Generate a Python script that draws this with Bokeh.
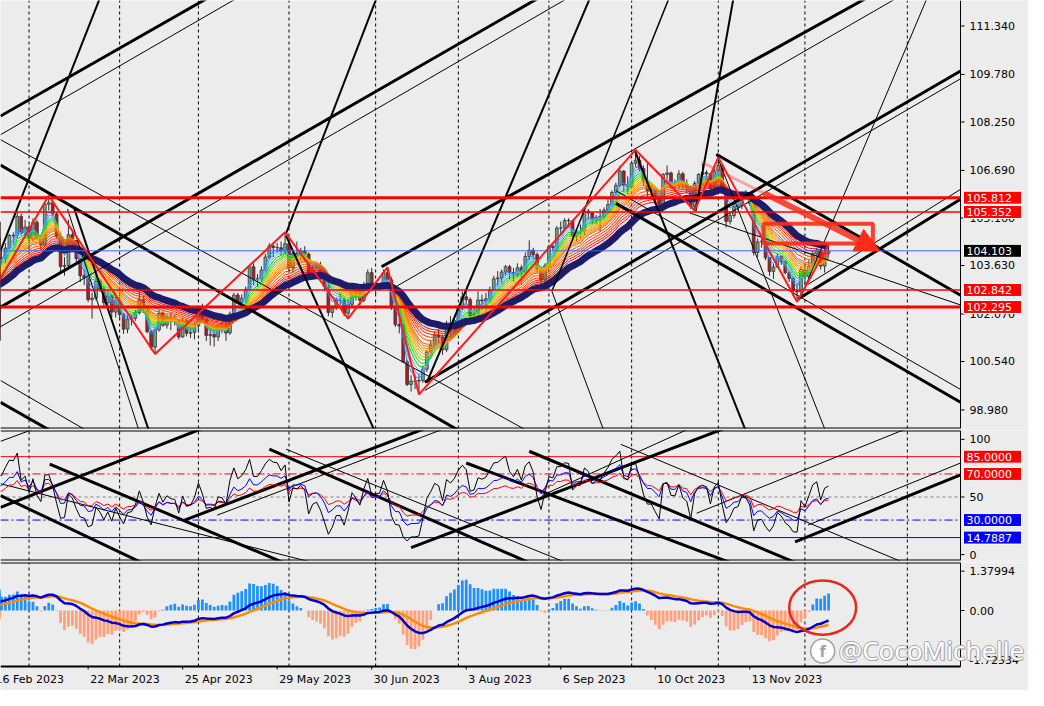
import numpy as np
import pandas as pd
from bokeh.plotting import figure
from bokeh.layouts import column
from bokeh.models import Range1d, Label, Arrow, NormalHead
from bokeh.core.properties import value
from bokeh.embed import file_html
from bokeh.resources import INLINE

# ---------------- data (daily candles, first bar = 3 Jan 2023) ----------------
first_date = "2023-01-03"

opens = [
    103.52, 104.52, 104.25, 105.03, 103.88, 103.01, 103.23, 103.20, 102.19, 102.20, 102.19, 102.38, 102.36, 102.06, 101.97, 102.13, 101.93, 101.63, 101.84, 101.92, 102.26,
    102.10, 101.22, 101.75, 102.92, 103.62, 103.41, 103.42, 103.22, 103.63, 103.28, 103.24, 103.83, 103.87, 103.88, 103.86, 104.19, 104.60, 104.59, 105.21, 104.68,
    104.87, 104.48, 105.02, 104.52, 104.30, 105.60, 105.65, 105.29, 104.58, 103.60, 103.63, 104.62, 104.43, 103.85, 103.30, 103.23, 102.53, 102.58, 103.12, 102.87, 102.43, 102.65, 102.13,
    102.51, 102.05, 101.58, 101.90, 101.93, 102.11, 102.53, 102.18, 101.50, 101.00, 101.56, 102.09, 101.71, 101.96, 101.85, 101.83, 101.33, 101.84, 101.45, 101.48,
    101.69, 102.18, 101.89, 101.38, 101.41, 101.33, 101.62, 101.60, 101.46, 102.07, 102.68, 102.44, 102.58, 102.86, 103.59, 103.20, 103.20, 103.48, 103.90, 104.26, 104.21, 104.20, 104.09,
    104.33, 103.56, 104.02, 103.99, 104.09, 104.00, 103.34, 103.56, 103.61, 103.39, 102.95, 102.12, 102.27, 102.52, 102.52, 102.09, 102.38, 102.88, 102.72, 102.51, 102.97, 103.40,
    102.91, 102.97, 102.99, 103.40, 103.17, 102.27, 101.73, 101.68, 100.53, 99.80, 99.91, 99.91, 99.93, 100.29, 100.84, 101.07, 101.39, 101.33, 100.92, 101.75, 101.65,
    101.86, 102.29, 102.62, 102.53, 102.02, 102.07, 102.52, 102.49, 102.56, 102.84, 103.20, 103.23, 103.42, 103.59, 103.40, 103.33, 103.56, 103.42, 103.92, 104.12, 103.98, 103.52, 103.16,
    103.62, 104.24, 104.21, 104.83, 104.84, 105.08, 105.07, 104.57, 104.71, 104.72, 105.38, 105.32, 105.10, 105.18, 105.21, 105.41, 105.59, 105.98, 106.21, 106.67, 106.22,
    106.17, 106.92, 107.02, 106.75, 106.34, 106.04, 106.04, 105.81, 105.56, 106.56, 106.61, 106.26, 106.25, 106.58, 106.25, 106.16, 105.53, 106.27, 106.56, 106.62, 106.58, 106.12,
    106.67, 106.85, 106.12, 105.05, 105.24, 105.53, 105.57, 105.91, 105.86, 105.63, 104.05, 104.39, 104.41, 103.88, 103.44, 103.58, 103.92, 103.76, 103.40, 103.21, 102.81, 102.78,
    103.50, 103.27, 103.60, 104.00, 104.12, 103.61, 104.02,
]
highs = [
    104.80, 104.90, 105.15, 105.63, 103.95, 103.40, 103.45, 103.25, 102.30, 102.45, 102.60, 102.90, 102.55, 102.30, 102.25, 102.40, 102.05, 102.10, 102.05, 102.35, 102.40,
    102.25, 101.95, 103.00, 103.96, 103.80, 103.60, 103.50, 103.75, 103.70, 103.55, 103.95, 104.10, 104.15, 104.10, 104.35, 104.65, 104.70, 105.36, 105.30, 105.10,
    104.95, 105.15, 105.10, 104.62, 105.65, 105.88, 105.70, 105.35, 104.70, 103.90, 105.10, 104.75, 104.45, 103.90, 103.50, 103.40, 102.75, 103.40, 103.20, 102.95, 102.80, 102.70, 102.75,
    102.80, 102.10, 102.05, 102.05, 102.20, 102.80, 102.65, 102.30, 101.55, 101.65, 102.20, 102.15, 102.05, 102.10, 102.05, 101.90, 101.95, 101.90, 101.70, 101.80,
    102.25, 102.40, 101.95, 101.60, 101.60, 101.70, 101.80, 101.90, 102.15, 102.75, 102.75, 102.70, 102.95, 103.60, 103.70, 103.35, 103.60, 104.00, 104.35, 104.30, 104.35, 104.40, 104.70,
    104.35, 104.10, 104.40, 104.20, 104.25, 104.05, 103.65, 103.75, 103.75, 103.45, 103.15, 102.35, 102.60, 102.75, 102.60, 102.55, 103.00, 102.95, 102.80, 103.10, 103.50, 103.55,
    103.10, 103.05, 103.50, 103.57, 103.25, 102.35, 101.95, 101.75, 100.60, 100.10, 100.10, 100.15, 100.40, 100.90, 101.20, 101.50, 101.60, 101.40, 101.85, 102.00, 101.95,
    102.35, 102.80, 102.85, 102.60, 102.30, 102.80, 102.70, 102.75, 102.95, 103.30, 103.45, 103.50, 103.65, 103.65, 103.55, 103.70, 103.65, 104.05, 104.44, 104.20, 104.05, 103.60, 103.70,
    104.30, 104.35, 104.90, 105.05, 105.15, 105.15, 105.10, 104.80, 104.95, 105.45, 105.45, 105.35, 105.25, 105.45, 105.50, 105.80, 106.05, 106.30, 106.84, 106.70, 106.50,
    107.00, 107.35, 107.15, 106.85, 106.95, 106.25, 106.10, 105.90, 106.60, 106.85, 106.65, 106.40, 106.70, 106.65, 106.40, 106.20, 106.35, 106.60, 106.90, 106.70, 106.60, 106.75,
    107.11, 106.90, 106.15, 105.35, 105.65, 105.75, 106.00, 106.05, 105.95, 105.70, 104.50, 104.60, 104.45, 103.90, 103.70, 104.00, 103.95, 103.80, 103.45, 103.30, 103.05, 103.60,
    103.70, 103.80, 104.10, 104.20, 104.15, 104.26, 104.30,
]
lows = [
    103.40, 104.10, 104.20, 103.82, 102.94, 102.90, 102.95, 101.99, 101.77, 102.08, 102.10, 101.90, 101.85, 101.75, 101.70, 101.85, 101.50, 101.55, 101.60, 101.85, 101.90,
    100.82, 100.95, 101.55, 102.90, 103.20, 103.10, 102.90, 103.00, 103.05, 102.95, 103.10, 103.55, 103.62, 103.70, 103.70, 104.15, 104.30, 104.50, 104.60, 104.50,
    104.10, 104.40, 104.46, 104.10, 104.25, 105.40, 105.20, 104.50, 103.45, 103.30, 103.55, 104.25, 103.65, 103.10, 103.00, 102.45, 101.92, 102.50, 102.78, 102.30, 102.30, 101.95, 101.95,
    101.90, 101.43, 101.45, 101.70, 101.85, 102.05, 102.10, 101.45, 100.90, 100.78, 101.50, 101.65, 101.60, 101.55, 101.70, 101.25, 101.30, 101.35, 101.30, 101.25,
    101.50, 101.80, 101.20, 101.05, 101.02, 101.20, 101.45, 101.20, 101.40, 102.00, 102.40, 102.25, 102.45, 102.80, 103.00, 102.95, 103.10, 103.40, 103.85, 103.90, 104.05, 103.95, 104.00,
    103.40, 103.40, 103.90, 103.80, 103.75, 103.30, 103.25, 103.50, 103.15, 102.80, 102.00, 101.95, 102.20, 102.35, 102.00, 101.92, 102.30, 102.50, 102.35, 102.45, 102.90, 102.80,
    102.70, 102.85, 102.90, 102.95, 102.20, 101.65, 101.45, 100.50, 99.75, 99.57, 99.65, 99.48, 99.85, 100.20, 100.75, 100.95, 101.15, 100.75, 100.85, 101.30, 101.45,
    101.75, 102.20, 102.35, 101.90, 101.95, 102.00, 102.20, 102.00, 102.45, 102.80, 102.95, 103.05, 103.30, 103.20, 103.10, 103.25, 103.00, 103.35, 103.80, 103.85, 103.40, 102.95, 102.98,
    103.55, 104.10, 104.10, 104.60, 104.75, 104.85, 104.45, 104.40, 104.50, 104.60, 105.10, 104.95, 104.95, 104.70, 105.10, 105.35, 105.55, 105.90, 106.15, 106.00, 105.90,
    106.10, 106.80, 106.65, 106.20, 105.85, 105.80, 105.60, 105.40, 105.50, 106.40, 106.10, 106.00, 106.10, 106.10, 105.95, 105.45, 105.40, 106.20, 106.45, 106.35, 106.00, 106.05,
    106.60, 106.00, 104.85, 104.95, 105.15, 105.40, 105.45, 105.75, 105.55, 103.95, 103.90, 104.20, 103.80, 103.30, 103.20, 103.55, 103.65, 103.35, 103.10, 102.65, 102.46, 102.70,
    103.00, 103.15, 103.55, 103.80, 103.50, 103.40, 103.90,
]
closes = [
    104.52, 104.25, 105.03, 103.88, 103.01, 103.23, 103.20, 102.19, 102.20, 102.19, 102.38, 102.36, 102.06, 101.97, 102.13, 101.93, 101.63, 101.84, 101.92, 102.26, 102.10,
    101.22, 101.75, 102.92, 103.62, 103.41, 103.42, 103.22, 103.63, 103.28, 103.24, 103.83, 103.87, 103.88, 103.86, 104.19, 104.60, 104.59, 105.21, 104.68, 104.87,
    104.48, 105.02, 104.52, 104.30, 105.60, 105.65, 105.29, 104.58, 103.60, 103.63, 104.62, 104.43, 103.85, 103.30, 103.23, 102.53, 102.58, 103.12, 102.87, 102.43, 102.65, 102.13, 102.51,
    102.05, 101.58, 101.90, 101.93, 102.11, 102.53, 102.18, 101.50, 101.00, 101.56, 102.09, 101.71, 101.96, 101.85, 101.83, 101.33, 101.84, 101.45, 101.48, 101.69,
    102.18, 101.89, 101.38, 101.41, 101.33, 101.62, 101.60, 101.46, 102.07, 102.68, 102.44, 102.58, 102.86, 103.59, 103.20, 103.20, 103.48, 103.90, 104.26, 104.21, 104.20, 104.09, 104.33,
    103.56, 104.02, 103.99, 104.09, 104.00, 103.34, 103.56, 103.61, 103.39, 102.95, 102.12, 102.27, 102.52, 102.52, 102.09, 102.38, 102.88, 102.72, 102.51, 102.97, 103.40, 102.91,
    102.97, 102.99, 103.40, 103.17, 102.27, 101.73, 101.68, 100.53, 99.80, 99.91, 99.91, 99.93, 100.29, 100.84, 101.07, 101.39, 101.33, 100.92, 101.75, 101.65, 101.86,
    102.29, 102.62, 102.53, 102.02, 102.07, 102.52, 102.49, 102.56, 102.84, 103.20, 103.23, 103.42, 103.59, 103.40, 103.33, 103.56, 103.42, 103.92, 104.12, 103.98, 103.52, 103.16, 103.62,
    104.24, 104.21, 104.83, 104.84, 105.08, 105.07, 104.57, 104.71, 104.72, 105.38, 105.32, 105.10, 105.18, 105.21, 105.41, 105.59, 105.98, 106.21, 106.67, 106.22, 106.17,
    106.92, 107.02, 106.75, 106.34, 106.04, 106.04, 105.81, 105.56, 106.56, 106.61, 106.26, 106.25, 106.58, 106.25, 106.16, 105.53, 106.27, 106.56, 106.62, 106.58, 106.12, 106.67,
    106.85, 106.12, 105.05, 105.24, 105.53, 105.57, 105.91, 105.86, 105.63, 104.05, 104.39, 104.41, 103.88, 103.44, 103.58, 103.92, 103.76, 103.40, 103.21, 102.81, 102.78, 103.50,
    103.27, 103.60, 104.00, 104.12, 103.61, 104.02, 104.103,
]
last_price = 104.103

# date axis
tick_dates = ["2023-02-16", "2023-03-22", "2023-04-25", "2023-05-29", "2023-06-30",
              "2023-08-03", "2023-09-06", "2023-10-10", "2023-11-13"]
tick_texts = ["16 Feb 2023", "22 Mar 2023", "25 Apr 2023", "29 May 2023", "30 Jun 2023",
              "3 Aug 2023", "6 Sep 2023", "10 Oct 2023", "13 Nov 2023"]
grid_dates = ["2023-03-01", "2023-04-03", "2023-05-01", "2023-06-01", "2023-07-03", "2023-08-01",
              "2023-09-01", "2023-10-02", "2023-11-01", "2023-12-01", "2024-01-08"]

# price axis / levels
price_ticks = [98.98, 100.54, 102.07, 103.63, 105.16, 106.69, 108.25, 109.78, 111.34]
red_levels = [105.812, 105.352, 102.842, 102.295]
red_level_widths = [3, 1.5, 1.5, 3]

# zigzag (bar number, price)
zz_bar = [30, 46, 73, 106, 122, 132, 140, 195, 210, 216, 236, 244]
zz_price = [102.40, 105.88, 100.78, 104.70, 101.92, 103.57, 99.48, 107.35, 105.40, 107.11, 102.46, 104.30]

# trendlines on price panel (bar, price) -> ray through second point
tl_x0 = [33.75, 33.75, 33.75, 33.75, 141.5, 141.5, 130.5, 133.75, 236.25, 238.75,
         33.75, 33.75, 33.75, 33.75, 215.5, 208.75, 190.0, 190.0,
         33.75, 106.25, 52.5, 50.75, 106.25, 142.0, 173.75, 173.75, 194.75, 210.25, 215.5, 236.75]
tl_y0 = [108.44, 107.84, 102.29, 101.66, 99.87, 99.61, 103.59, 102.92, 102.55, 103.02,
         106.86, 107.68, 99.23, 99.93, 107.21, 105.32, 105.63, 106.04,
         104.10, 104.66, 105.45, 105.45, 104.59, 99.87, 102.80, 102.80, 107.34, 105.38, 107.21, 102.55]
tl_x1 = [85.25, 92.75, 169.25, 176.75, 277.5, 277.5, 252.5, 260.25, 277.5, 277.5,
         149.25, 166.5, 45.5, 54.75, 277.5, 277.5, 277.5, 277.5,
         58.75, 129.0, 71.25, 68.75, 121.25, 170.5, 203.25, 186.75, 222.75, 219.75, 243.0, 268.75]
tl_y1 = [112.16, 112.16, 112.16, 112.16, 109.89, 109.64, 112.16, 112.16, 105.76, 106.08,
         98.38, 98.38, 98.38, 98.38, 102.67, 102.36, 99.23, 99.64,
         112.16, 112.16, 98.38, 98.38, 100.40, 108.38, 112.16, 98.38, 98.38, 112.16, 98.38, 112.16]
tl_w = [3, 1, 3, 1, 3, 1, 3, 1, 3, 1,
        3, 1, 3, 1, 3, 1, 3, 1,
        2, 2, 2, 1, 2, 2, 1.5, 1, 2, 2, 1, 1]

# trendlines on RSI panel (bar, rsi)
rt_x0 = [33.75, 46.25, 33.75, 33.75, 102.0, 106.25, 80.5, 88.75, 138.0, 171.25, 168.0, 152.0, 191.25, 210.5, 235.5, 238.75, 33.75]
rt_y0 = [41.0, 78.6, 51.3, 61.5, 91.5, 91.5, 29.9, 34.2, 6.0, 51.3, 89.7, 79.5, 95.7, 35.9, 11.1, 25.6, 98.3]
rt_x1 = [83.0, 105.5, 69.5, 113.0, 158.75, 158.75, 139.5, 144.5, 215.5, 207.0, 235.5, 173.25, 263.0, 262.0, 278.75, 278.75, 40.5]
rt_y1 = [106.8, -6.8, -6.8, -6.8, 6.8, 18.8, 106.8, 106.8, 106.8, 106.8, -6.8, 52.1, -6.8, 106.8, 70.9, 81.2, 106.8]
rt_w = [3, 3, 3, 1, 3, 1, 3, 1, 3, 1, 3, 3, 1, 1, 3, 1, 1]

rsi_ticks = [0, 50, 100]
rsi_levels = [85, 70, 50, 30, 14.7887]
macd_ticks = [-1.72534, 0.0, 1.37994]

# drawn annotations
box_left, box_right, box_bottom, box_top = 227.5, 255.25, 104.34, 104.97
arrow_x0, arrow_y0, arrow_x1, arrow_y1 = 211.75, 106.96, 257.0, 104.10
ring_x, ring_y, ring_w, ring_h = 242.5, 0.1, 17.0, 1.9
mark_x, mark_y = 246.6, -1.40

# ---------------- derived ----------------
o = np.array(opens); h = np.array(highs); l = np.array(lows); c = np.array(closes)
n = len(c)
bars = np.arange(n)
cs = pd.Series(c)


def bar_of(d):
    return float(np.busday_count(first_date, d))


def ema(s, span):
    return pd.Series(s).ewm(span=span, adjust=True).mean().to_numpy()


def rsi(s, per):
    d = s.diff().fillna(0.0)
    up = d.clip(lower=0)
    dn = (-d).clip(lower=0)
    au = up.ewm(alpha=1.0 / per, adjust=False).mean()
    ad = dn.ewm(alpha=1.0 / per, adjust=False).mean()
    return (100 - 100 / (1 + au / ad.replace(0, np.nan))).to_numpy()


BG = "#ECECEC"
FONT = "DejaVu Sans"
W = 1028
PLOT_W = 960                      # width of the chart area, rest is the price scale
X_LO, X_HI = 33.75, 277.5
S = PLOT_W / (X_HI - X_LO)        # px per bar
xr = Range1d(X_LO, X_LO + W / S)
K = 40.0


def base_fig(hgt, y_lo, y_hi, data_h, bb):
    # the frame covers the whole canvas; the data region is the top data_h px
    full_lo = y_lo - (hgt - bb - data_h) * (y_hi - y_lo) / data_h
    f = figure(width=W, height=hgt, x_range=xr, y_range=Range1d(full_lo, y_hi),
               output_backend="svg", toolbar_location=None,
               x_axis_location=None, y_axis_location=None,
               min_border_left=0, min_border_right=0, min_border_top=0, min_border_bottom=bb,
               background_fill_color=BG, border_fill_color=BG, outline_line_color=None)
    f.xgrid.grid_line_color = None
    f.ygrid.grid_line_color = None
    gx = [bar_of(d) for d in grid_dates]
    f.segment(x0=gx, y0=[y_lo] * len(gx), x1=gx, y1=[y_hi] * len(gx),
              line_color="black", line_dash="3 3", line_width=1)
    info = dict(ylo=y_lo, yhi=y_hi, pxu=data_h / (y_hi - y_lo))
    return f, info


def frame_box(f, info, top=True):
    ys = [info["ylo"], info["yhi"]] if top else [info["ylo"]]
    f.segment(x0=[X_LO] * len(ys), y0=ys, x1=[X_HI] * len(ys), y1=ys,
              line_color="black", line_width=2)
    f.segment(x0=[X_HI], y0=[info["ylo"]], x1=[X_HI], y1=[info["yhi"]],
              line_color="black", line_width=1)


def right_axis(f, ticks, labels):
    nt = len(ticks)
    f.segment(x0=[X_HI] * nt, y0=ticks, x1=[X_HI + 4 / S] * nt, y1=ticks,
              line_color="black", line_width=1)
    f.text(x=[X_HI + 9 / S] * nt, y=ticks, text=labels, text_font=value(FONT),
           text_font_size="11px", text_color="black", text_align="left", text_baseline="middle")


def tags(f, vals, labels, colors):
    nv = len(vals)
    f.rect(x=[X_HI + 32 / S] * nv, y=vals, width=58, height=13, width_units="screen",
           height_units="screen", fill_color=colors, line_color="white", line_width=1)
    f.text(x=[X_HI + 6 / S] * nv, y=vals, text=labels, text_font=value(FONT),
           text_font_size="11px", text_color="white", text_align="left", text_baseline="middle")


def rays(f, x0, y0, x1, y1, w):
    x0 = np.array(x0); y0 = np.array(y0); x1 = np.array(x1); y1 = np.array(y1)
    t = np.minimum(K, (X_HI - x0) / (x1 - x0))
    f.segment(x0=x0, y0=y0, x1=x0 + (x1 - x0) * t, y1=y0 + (y1 - y0) * t,
              line_color="black", line_width=list(w))


def hlines(f, vals, colors, widths, dashes=None):
    for i, v in enumerate(vals):
        f.segment(x0=[X_LO], y0=[v], x1=[X_HI], y1=[v], line_color=colors[i],
                  line_width=widths[i], line_dash=(dashes[i] if dashes else "solid"))


# ---------------- price panel ----------------
p1, i1 = base_fig(430, 98.383, 112.16, 428, 2)

up = c >= o
p1.segment(bars, h, bars, l, line_color="#2E2E2E", line_width=1)
p1.vbar(x=bars[up], bottom=o[up], top=c[up], width=0.7, fill_color="#6FA88A",
        line_color="#333333", line_width=0.8)
p1.vbar(x=bars[~up], bottom=c[~up], top=o[~up], width=0.7, fill_color="#B81818",
        line_color="#333333", line_width=0.8)

ribbon_periods = [3, 4, 5, 6, 7, 8, 9, 10, 11, 12, 13, 14, 16, 18, 20, 22, 24]
ribbon_colors = ["#2A8CFF", "#4A9EFF", "#6AB0FF", "#00D200", "#20E020", "#60E000",
                 "#FFB400", "#FFA500", "#FF9A00", "#FF8C00", "#FF7A00", "#FF6400",
                 "#FF5000", "#FF3C00", "#FF2800", "#FF1400", "#FF0000"]
for per, col in zip(ribbon_periods, ribbon_colors):
    p1.line(bars, ema(cs, per), line_color=col, line_width=1)
p1.line(bars, ema(cs, 30), line_color="#1C1C6B", line_width=7)

rays(p1, tl_x0, tl_y0, tl_x1, tl_y1, tl_w)
hlines(p1, red_levels, ["#FF0000"] * 4, red_level_widths)
hlines(p1, [last_price], ["#3A6BEA"], [1])
p1.line(zz_bar, zz_price, line_color="#FF1A1A", line_width=2)

p1.quad(left=[box_left], right=[box_right], bottom=[box_bottom], top=[box_top],
        fill_color=None, line_color="#FF2A1A", line_width=4, line_alpha=0.9)
# arrow: pale start, solid end
mid_x = arrow_x0 + (arrow_x1 - arrow_x0) * 0.35
mid_y = arrow_y0 + (arrow_y1 - arrow_y0) * 0.35
p1.segment(x0=[arrow_x0], y0=[arrow_y0], x1=[mid_x], y1=[mid_y], line_color="#FF2A1A",
           line_width=3, line_alpha=0.35)
p1.add_layout(Arrow(end=NormalHead(size=24, fill_color="#FF2A1A", line_color="#FF2A1A"),
                    x_start=mid_x, y_start=mid_y, x_end=arrow_x1, y_end=arrow_y1,
                    line_color="#FF2A1A", line_width=6, line_alpha=0.85))
frame_box(p1, i1, top=False)
right_axis(p1, price_ticks, [f"{t:.3f}" for t in price_ticks])
tags(p1, red_levels + [last_price], [f"{v:.3f}" for v in red_levels + [last_price]],
     ["#FF0000"] * 4 + ["#000000"])

# ---------------- RSI panel ----------------
p2, i2 = base_fig(132, -5.1, 107.7, 130, 2)
hlines(p2, rsi_levels, ["#FF0000", "#FF0000", "#808080", "#0000FF", "#0000FF"], [1] * 5,
       ["solid", "8 3 2 3", "3 3", "8 3 2 3", "solid"])
rays(p2, rt_x0, rt_y0, rt_x1, rt_y1, rt_w)
sel = bars >= 20
p2.line(bars[sel], rsi(cs, 24)[sel], line_color="#FF0000", line_width=1)
p2.line(bars[sel], rsi(cs, 14)[sel], line_color="#0000FF", line_width=1)
p2.line(bars[sel], rsi(cs, 6)[sel], line_color="#000000", line_width=1)
frame_box(p2, i2)
right_axis(p2, rsi_ticks, [str(t) for t in rsi_ticks])
tag_lv = [rsi_levels[0], rsi_levels[1], rsi_levels[3], rsi_levels[4]]
tags(p2, tag_lv, [f"{v:.4f}" for v in tag_lv], ["#FF0000", "#FF0000", "#0000FF", "#0000FF"])

# ---------------- MACD panel ----------------
p3, i3 = base_fig(128, -1.962, 1.684, 104, 0)
macd = ema(cs, 12) - ema(cs, 26)
signal = ema(macd, 9)
hist = 4.0 * (macd - signal)
pos = hist >= 0
p3.vbar(x=bars[pos], top=hist[pos], bottom=0, width=0.7, fill_color="#1E90FF", line_color=None)
p3.vbar(x=bars[~pos], top=hist[~pos], bottom=0, width=0.7, fill_color="#FFA07A", line_color=None)
p3.line(bars, signal, line_color="#FF8C00", line_width=2.5)
p3.line(bars, macd, line_color="#0000CD", line_width=2.5)
p3.ellipse(x=[ring_x], y=[ring_y], width=[ring_w], height=[ring_h], fill_color=None,
           line_color="#E8271E", line_width=2.5)
frame_box(p3, i3)
right_axis(p3, macd_ticks, ["-1.72534", "0.00", "1.37994"])

# date scale
tick_bars = [bar_of(d) for d in tick_dates]
nt = len(tick_bars)
p3.segment(x0=tick_bars, y0=[i3["ylo"]] * nt, x1=tick_bars, y1=[i3["ylo"] - 3 / i3["pxu"]] * nt,
           line_color="black", line_width=1)
for b, t in zip(tick_bars, tick_texts):
    p3.add_layout(Label(x=b, y=i3["ylo"], x_offset=2, y_offset=-6, text=t, text_font=FONT,
                        text_font_size="11px", text_color="black", text_align="left",
                        text_baseline="top"))

# watermark
p3.scatter(x=[mark_x - 4.1], y=[mark_y - 0.02], size=24, fill_color="white",
           line_color="#A0A0A0", line_width=1.5)
p3.add_layout(Label(x=mark_x - 4.1, y=mark_y - 0.02, text="f", text_font="Noto Sans",
                    text_font_style="bold", text_font_size="16px", text_color="#A0A0A0",
                    text_align="center", text_baseline="middle"))
for dx, dy in [(-1, 0), (1, 0), (0, -1), (0, 1), (1, -1)]:
    p3.add_layout(Label(x=mark_x, y=mark_y, x_offset=dx, y_offset=dy, text="@CocoMichelle",
                        text_font="Noto Sans", text_font_size="26px", text_color="#A8A8A8",
                        text_align="left", text_baseline="middle"))
p3.add_layout(Label(x=mark_x, y=mark_y, text="@CocoMichelle", text_font="Noto Sans",
                    text_font_size="26px", text_color="white", text_align="left",
                    text_baseline="middle"))

layout = column(p1, p2, p3, spacing=0)
open("out.html", "w").write(file_html(layout, INLINE))
